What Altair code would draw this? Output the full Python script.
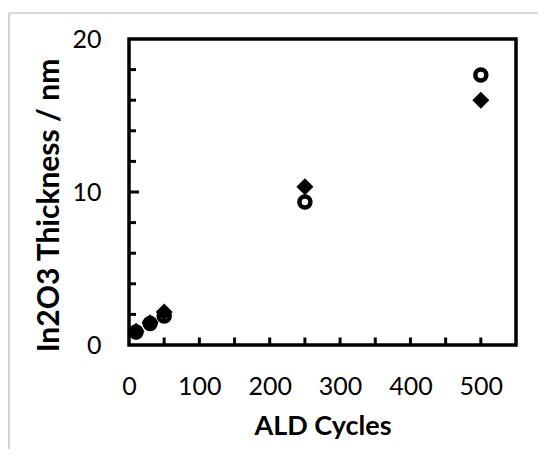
import altair as alt
import pandas as pd

# ---- data ----
cycles = [10, 30, 50, 250, 500]
thickness_diamond = [0.9, 1.45, 2.15, 10.35, 16.0]
thickness_circle = [0.85, 1.4, 1.9, 9.35, 17.65]

x_label_values = [0, 100, 200, 300, 400, 500]
y_label_values = [0, 10, 20]
x_tick_values = [50, 100, 150, 200, 250, 300, 350, 400, 450, 500]
y_minor_ticks = [2, 4, 6, 8, 12, 14, 16, 18]
y_major_ticks = [10]

W, H = 387, 306
FONT = "Lato"

df_d = pd.DataFrame({"cycles": cycles, "thick": thickness_diamond})
df_c = pd.DataFrame({"cycles": cycles, "thick": thickness_circle})
df_xt = pd.DataFrame({"cycles": x_tick_values})
df_ymin = pd.DataFrame({"thick": y_minor_ticks})
df_ymaj = pd.DataFrame({"thick": y_major_ticks})
df_one = pd.DataFrame({"a": [0]})

xscale = alt.Scale(domain=[0, 550], nice=False, zero=False)
yscale = alt.Scale(domain=[0, 20], nice=False, zero=False)

xaxis = alt.Axis(
    values=x_label_values, title="ALD Cycles", grid=False, ticks=False, tickSize=0,
    domain=False, labelFont=FONT, labelFontSize=25, labelColor="black",
    labelPadding=29, titleFont=FONT, titleFontSize=27, titleFontWeight="bold",
    titleColor="black", titleY=89, titleBaseline="alphabetic", labelFlush=False,
)
yaxis = alt.Axis(
    values=y_label_values, title="In2O3 Thickness / nm", grid=False, ticks=False,
    tickSize=0, domain=False, labelFont=FONT, labelFontSize=25, labelColor="black",
    labelPadding=28, titleFont=FONT, titleFontSize=30, titleFontWeight="bold",
    titleColor="black", titleX=-71, titleY=166, titleBaseline="alphabetic",
    titleAngle=270, titleAlign="center", labelFlush=False,
)

diamonds = alt.Chart(df_d).mark_point(
    shape="diamond", filled=True, size=290, color="black", opacity=1
).encode(
    x=alt.X("cycles:Q", scale=xscale, axis=xaxis),
    y=alt.Y("thick:Q", scale=yscale, axis=yaxis),
)

circles = alt.Chart(df_c).mark_point(
    shape="circle", filled=False, size=121, color="black", strokeWidth=4.5, opacity=1
).encode(
    x=alt.X("cycles:Q", scale=xscale),
    y=alt.Y("thick:Q", scale=yscale),
)

xticks = alt.Chart(df_xt).mark_rule(color="black", strokeWidth=3).encode(
    x=alt.X("cycles:Q", scale=xscale),
    y=alt.value(H),
    y2=alt.value(H - 7.5),
)

yticks_minor = alt.Chart(df_ymin).mark_rule(color="black", strokeWidth=3).encode(
    y=alt.Y("thick:Q", scale=yscale),
    x=alt.value(0),
    x2=alt.value(7),
)

yticks_major = alt.Chart(df_ymaj).mark_rule(color="black", strokeWidth=3).encode(
    y=alt.Y("thick:Q", scale=yscale),
    x=alt.value(0),
    x2=alt.value(10),
)

# light grey chart-area frame (decorative)
frame_v = alt.Chart(df_one).mark_rule(color="#b4b4b4", strokeWidth=1.2, clip=False).encode(
    x=alt.value(-120), y=alt.value(-26), y2=alt.value(430)
)
frame_h = alt.Chart(df_one).mark_rule(color="#b4b4b4", strokeWidth=1.2, clip=False).encode(
    y=alt.value(-26), x=alt.value(-120), x2=alt.value(430)
)

chart = alt.layer(
    frame_v, frame_h, xticks, yticks_minor, yticks_major, diamonds, circles
).properties(
    width=W, height=H,
    autosize=alt.AutoSizeParams(type="none"),
    padding={"left": 121, "top": 31, "right": 22, "bottom": 104},
).configure(
    background="white",
    view=alt.ViewConfig(stroke="black", strokeWidth=3.5),
)

chart.save("out.html", embed_options={"renderer": "svg", "actions": False})
